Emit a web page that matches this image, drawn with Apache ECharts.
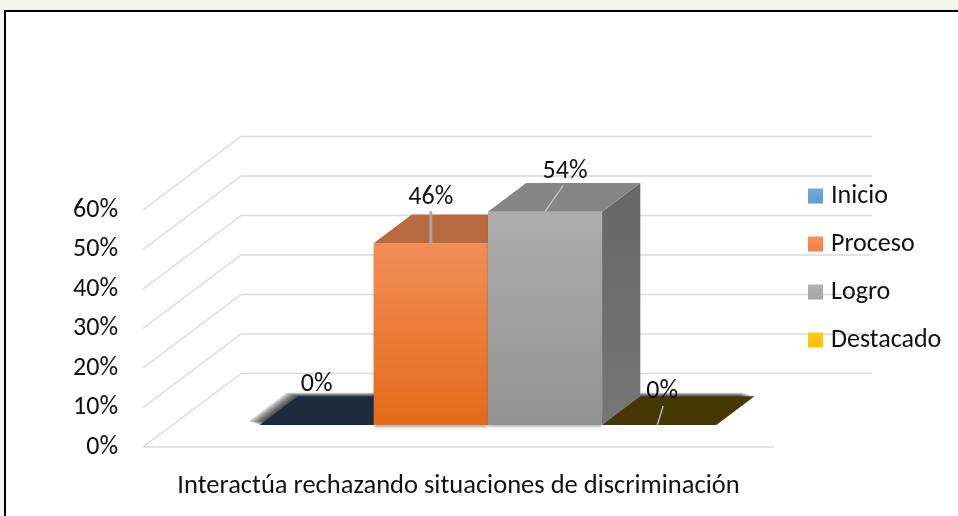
<!DOCTYPE html>
<html lang="es">
<head>
<meta charset="UTF-8">
<title>Interactúa rechazando situaciones de discriminación</title>
<script src="https://cdn.jsdelivr.net/npm/echarts@6/dist/echarts.min.js"></script>
<style>
  html, body { margin: 0; padding: 0; background: #f4f3ef; }
  #chart { width: 958px; height: 516px; }
</style>
</head>
<body>
<div id="chart"></div>
<script>
// datos
var categorias = ['Interactúa rechazando situaciones de discriminación'];
var niveles = ['Inicio', 'Proceso', 'Logro', 'Destacado'];
var valores = [0, 0.46, 0.54, 0];
var ticks = [0, 0.1, 0.2, 0.3, 0.4, 0.5, 0.6];

var FONT = 'Carlito, Lato, "Liberation Sans", sans-serif';

// colores de cada serie (leyenda, cara frontal, cara superior, cara lateral)
var estilos = [
    { leyenda: '#5b9bd5', frente: ['#6aa6dc', '#3f80c0'], tapa: '#1b2c3e', lado: '#2c5f8f' },
    { leyenda: '#f4803a', frente: ['#f28d58', '#e56a19'], tapa: '#b86b41', lado: '#a8541a' },
    { leyenda: '#a5a5a5', frente: ['#adadad', '#939393'], tapa: '#868686', lado: '#676767' },
    { leyenda: '#ffc000', frente: ['#ffd030', '#e0a800'], tapa: '#463805', lado: '#8a6e00' }
];
var labelDx = [0, 0, 20, 3];
var labelDy = [-40, -46, -40, -33];

// profundidad del piso 3D en px
var DEPTH_X = 98, DEPTH_Y = -73.5;
var BAR_FRONT = 0.3, BAR_BACK = 0.69;

var myChart = echarts.init(document.getElementById('chart'));

function gridItem(params, api) {
    var cs = params.coordSys;
    var p = api.coord([0, api.value(0)]);
    var x0 = cs.x, y = p[1];
    var col = '#d9d9d9';
    var kids = [
        { type: 'line', shape: { x1: x0, y1: y, x2: x0 + DEPTH_X, y2: y + DEPTH_Y }, style: { stroke: col, lineWidth: 1.5 } },
        { type: 'line', shape: { x1: x0 + DEPTH_X, y1: y + DEPTH_Y, x2: x0 + cs.width + DEPTH_X, y2: y + DEPTH_Y }, style: { stroke: col, lineWidth: 1.5 } }
    ];
    if (api.value(0) === 0) {
        kids.push({ type: 'line', shape: { x1: x0, y1: y, x2: x0 + cs.width, y2: y }, style: { stroke: col, lineWidth: 1.5 } });
    }
    return { type: 'group', children: kids };
}

function barRenderer(i) {
    return function (params, api) {
        var st = estilos[i];
        var base = api.coord([api.value(0), 0]);
        var top = api.coord([api.value(0), api.value(1)]);
        var bw = api.size([1, 0])[0] * 0.181;
        var ddx = (BAR_BACK - BAR_FRONT) * DEPTH_X, ddy = (BAR_BACK - BAR_FRONT) * DEPTH_Y;
        var x = base[0] + (i - 2) * bw + BAR_FRONT * DEPTH_X;
        var yb = base[1] + BAR_FRONT * DEPTH_Y;
        var yt = top[1] + BAR_FRONT * DEPTH_Y;
        var h = yb - yt;
        var kids = [];
        var flat = h < 0.5;
        if (!flat) {
            kids.push({
                type: 'rect', shape: { x: x, y: yt, width: bw, height: h },
                style: {
                    fill: new echarts.graphic.LinearGradient(0, 0, 0, 1, [
                        { offset: 0, color: st.frente[0] }, { offset: 0.6, color: echarts.color.lerp(0.6, st.frente) }, { offset: 1, color: st.frente[1] }
                    ]),
                    shadowBlur: 3, shadowOffsetY: 2, shadowColor: 'rgba(0,0,0,0.35)'
                }
            });
            kids.push({
                type: 'polygon',
                shape: { points: [[x + bw, yb], [x + bw, yt], [x + bw + ddx, yt + ddy], [x + bw + ddx, yb + ddy]] },
                style: {
                    fill: new echarts.graphic.LinearGradient(0, 0, 0, 1, [
                        { offset: 0, color: st.lado }, { offset: 1, color: echarts.color.lift(st.lado, 0.1) }
                    ])
                }
            });
        }
        var tapa = [[x, yt], [x + bw, yt], [x + bw + ddx, yt + ddy], [x + ddx, yt + ddy]];
        if (flat) {
            // sombra difusa de la barra plana (capas)
            for (var k = 7; k >= 1; k--) {
                kids.push({
                    type: 'polygon',
                    shape: { points: tapa.map(function (p) { return [p[0] - 1.6 * k, p[1] - 0.5 * k]; }) },
                    style: { fill: 'rgba(20,20,20,0.16)' }
                });
            }
        }
        kids.push({
            type: 'polygon',
            shape: { points: tapa },
            style: { fill: st.tapa }
        });
        // etiqueta de datos con línea guía
        var cx = x + bw / 2;
        var lx = cx + labelDx[i], ly = yt + labelDy[i];
        if (i !== 0) {
            kids.push({
                type: 'line',
                shape: { x1: lx + (flat ? 1 : -labelDx[i] * 0.1), y1: ly + 14, x2: cx - (flat ? 2 : 0), y2: yt },
                style: { stroke: i === 1 ? '#a6a6a6' : '#c4c4c4', lineWidth: i === 1 ? 3 : 1.3 }
            });
        }
        kids.push({
            type: 'text',
            style: {
                x: lx, y: ly, text: Math.round(api.value(1) * 100) + '%',
                align: 'center', verticalAlign: 'middle',
                font: '26px ' + FONT, fill: '#111'
            }
        });
        return { type: 'group', children: kids };
    };
}

var series = [{
    type: 'custom',
    name: 'grid3d',
    silent: true,
    z: 1,
    renderItem: gridItem,
    data: ticks.map(function (t) { return [t]; }),
    encode: { y: 0 }
}];
var zOrden = [3, 4, 5, 2];
niveles.forEach(function (n, i) {
    series.push({
        type: 'custom',
        name: n,
        z: zOrden[i],
        renderItem: barRenderer(i),
        itemStyle: { color: estilos[i].leyenda },
        data: [[0, valores[i]]],
        encode: { x: 0, y: 1 }
    });
});

var option = {
    backgroundColor: '#f4f3ef',
    animation: false,
    graphic: [
        { type: 'rect', shape: { x: 5, y: 11, width: 1000, height: 600 }, style: { fill: '#ffffff', stroke: '#000', lineWidth: 2 }, z: -10 }
    ],
    grid: { left: 143, right: 958 - 774, top: 210, bottom: 516 - 447 },
    legend: {
        data: niveles.map(function (n, i) {
            return { name: n, itemStyle: { color: new echarts.graphic.LinearGradient(0, 0, 0, 1, [
                { offset: 0, color: echarts.color.lift(estilos[i].leyenda, 0.15) }, { offset: 1, color: estilos[i].leyenda }
            ]) } };
        }),
        orient: 'vertical',
        left: 803,
        top: 178,
        icon: 'rect',
        itemWidth: 15,
        itemHeight: 15,
        itemGap: 22,
        selectedMode: false,
        textStyle: { fontFamily: FONT, fontSize: 26, color: '#111', padding: [0, 0, 0, 3] }
    },
    xAxis: {
        type: 'category',
        data: categorias,
        axisLine: { show: false },
        axisTick: { show: false },
        axisLabel: { fontFamily: FONT, fontSize: 26.5, color: '#111', margin: 26 }
    },
    yAxis: {
        type: 'value',
        min: 0,
        max: 0.6,
        interval: 0.1,
        axisLine: { show: false },
        axisTick: { show: false },
        splitLine: { show: false },
        axisLabel: {
            fontFamily: FONT, fontSize: 26, color: '#111', margin: 25,
            formatter: function (v) { return Math.round(v * 100) + '%'; }
        }
    },
    series: series
};

myChart.setOption(option);
</script>
</body>
</html>
